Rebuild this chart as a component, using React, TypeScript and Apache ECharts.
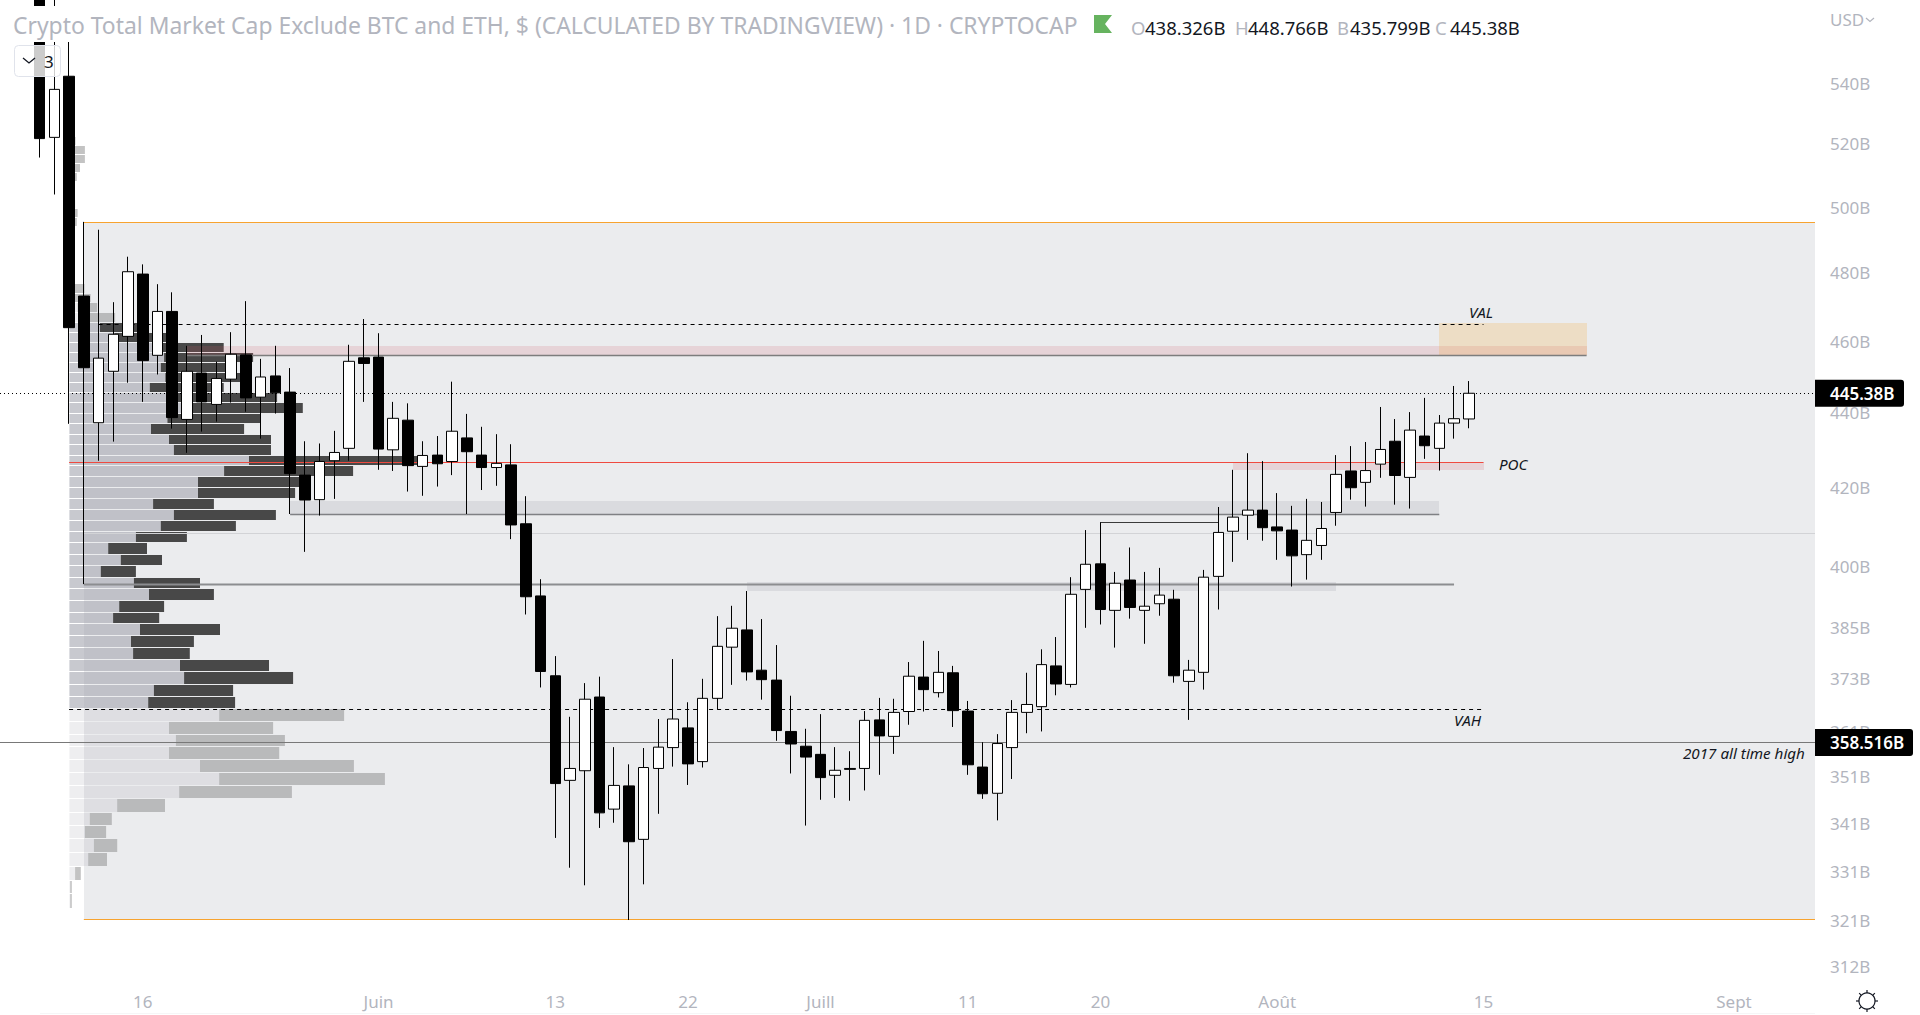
import React, { useEffect, useRef } from "react";
import * as echarts from "echarts";

// ---------- data ----------
const FONT = "'Noto Sans', sans-serif";
const firstDay = Date.UTC(2021, 4, 7);
const categories: string[] = Array.from({ length: 123 }, (_, i) => {
  const d = new Date(firstDay + i * 86400000);
  return String(d.getUTCMonth() + 1).padStart(2, "0") + "-" + String(d.getUTCDate()).padStart(2, "0");
});
const timeTicks: Record<string, string> = {
  "05-16": "16", "06-01": "Juin", "06-13": "13", "06-22": "22", "07-01": "Juill",
  "07-11": "11", "07-20": "20", "08-01": "Août", "08-15": "15", "09-01": "Sept",
};
const priceTicks = [540, 520, 500, 480, 460, 440, 420, 400, 385, 373, 361, 351, 341, 331, 321, 312];
const firstCandle = "05-09";

const opens = [577.5, 522.1, 542.3, 473.1, 437.3, 451.5, 461.4, 479.6, 456.0, 468.6, 438.2, 451.0, 442.3, 449.3, 456.1, 444.3, 450.2, 445.7, 423.3, 416.9, 427.1, 430.4, 455.3, 455.5, 430.0, 438.0, 425.6, 428.6, 426.9, 433.2, 428.6, 425.3, 426.0, 410.7, 392.7, 373.7, 350.2, 352.3, 368.8, 344.0, 349.0, 337.6, 352.8, 357.4, 361.8, 354.3, 368.5, 380.4, 384.5, 375.0, 372.7, 361.0, 357.7, 355.9, 351.3, 352.8, 352.8, 363.6, 359.9, 365.5, 373.4, 369.8, 374.4, 365.6, 353.1, 347.4, 357.4, 365.3, 366.6, 376.0, 371.7, 394.3, 400.6, 389.2, 396.6, 389.2, 390.8, 391.9, 372.4, 374.5, 397.5, 408.8, 412.9, 414.2, 409.9, 409.1, 402.9, 405.2, 413.6, 424.4, 421.4, 426.2, 432.3, 422.7, 433.7, 430.4, 437.2, 438.326];
const highs = [585.0, 575.0, 565.0, 495.4, 493.0, 471.3, 484.8, 482.5, 476.6, 474.2, 458.7, 461.8, 454.2, 462.6, 471.6, 455.0, 458.7, 452.4, 432.3, 431.7, 435.1, 459.0, 466.4, 462.3, 443.0, 442.6, 432.3, 433.7, 448.6, 439.7, 436.2, 434.2, 431.5, 417.8, 396.8, 378.3, 364.3, 372.0, 373.5, 357.5, 353.7, 357.3, 363.8, 377.6, 367.6, 373.0, 387.8, 390.3, 393.9, 387.1, 380.9, 369.1, 361.6, 364.9, 357.5, 356.6, 365.6, 368.6, 368.4, 376.9, 381.9, 379.5, 376.0, 367.9, 358.6, 360.4, 368.1, 374.4, 379.9, 382.8, 397.3, 409.1, 411.1, 398.6, 404.7, 398.6, 399.6, 394.2, 377.4, 399.1, 415.0, 424.7, 429.1, 427.0, 418.6, 415.3, 417.1, 416.3, 428.6, 431.0, 432.1, 441.6, 438.3, 440.2, 444.1, 439.4, 447.4, 448.766];
const lows = [515.6, 503.9, 437.0, 395.6, 427.1, 432.2, 448.3, 443.0, 450.6, 435.7, 429.2, 434.9, 437.6, 442.8, 440.3, 433.0, 439.8, 413.2, 403.6, 412.8, 417.1, 427.1, 443.0, 424.7, 424.4, 419.0, 417.9, 420.3, 423.3, 413.2, 419.4, 420.5, 406.8, 388.2, 371.0, 337.9, 331.7, 328.1, 340.0, 341.1, 321.1, 328.3, 343.0, 353.2, 349.2, 353.0, 366.0, 371.6, 372.6, 368.2, 358.9, 351.7, 340.5, 346.0, 346.4, 345.8, 348.0, 351.4, 356.0, 362.5, 365.5, 368.7, 362.0, 351.4, 346.2, 341.6, 350.5, 360.6, 361.0, 369.2, 371.0, 385.0, 385.8, 380.3, 387.2, 381.2, 387.9, 372.1, 363.6, 370.5, 389.4, 401.1, 406.6, 406.4, 401.6, 395.0, 396.7, 401.6, 410.2, 416.9, 415.1, 422.6, 415.6, 414.6, 427.6, 424.5, 433.0, 435.799];
const closes = [521.7, 537.9, 463.9, 452.5, 455.2, 462.0, 480.3, 454.5, 468.6, 438.7, 451.5, 443.0, 449.5, 456.3, 444.1, 449.9, 445.5, 423.7, 416.8, 426.9, 429.3, 454.3, 453.7, 430.2, 438.5, 425.8, 428.5, 426.3, 435.0, 429.5, 425.3, 426.4, 410.4, 392.5, 374.7, 349.5, 352.8, 368.3, 343.2, 349.1, 337.1, 353.0, 357.5, 363.8, 353.8, 368.5, 380.6, 384.9, 374.6, 372.8, 361.2, 358.2, 355.3, 350.8, 352.4, 352.6, 363.5, 360.0, 365.3, 373.6, 370.5, 374.5, 365.7, 353.6, 347.3, 358.3, 365.3, 367.1, 376.3, 371.8, 393.1, 400.5, 389.4, 395.8, 389.9, 390.2, 392.9, 373.7, 375.0, 397.3, 408.5, 412.4, 414.2, 409.7, 408.9, 402.6, 406.5, 409.5, 423.5, 420.0, 424.5, 430.1, 423.2, 435.3, 431.1, 437.2, 438.4, 445.38];

// volume profile: bin floor price, up volume, down volume (arbitrary units)
const binStep = 2.84;
const binFloor = [323.60, 326.44, 329.28, 332.12, 334.96, 337.80, 340.64, 343.48, 346.32, 349.16, 352.00, 354.84, 357.68, 360.52, 363.36, 366.20, 369.04, 371.88, 374.72, 377.56, 380.40, 383.24, 386.08, 388.92, 391.76, 394.60, 397.44, 400.28, 403.12, 405.96, 408.80, 411.64, 414.48, 417.32, 420.16, 423.00, 425.84, 428.68, 431.52, 434.36, 437.20, 440.04, 442.88, 445.72, 448.56, 451.40, 454.24, 457.08, 459.92, 462.76, 465.60, 468.44, 471.28, 474.12, 476.96, 479.80, 482.64, 485.48, 488.32, 491.16, 494.00, 496.84, 499.68, 502.52, 505.36, 508.20, 511.04, 513.88, 516.72, 519.56];
const upVolume = [0.8, 0.8, 5.7, 18.8, 24.5, 15.5, 20.4, 47.8, 109.8, 149.8, 130.6, 99.6, 106.5, 99.6, 149.8, 78.8, 84.5, 114.7, 110.6, 63.7, 61.6, 70.6, 43.7, 49.8, 79.6, 64.5, 31.4, 51.4, 38.8, 66.5, 91.4, 104.5, 83.7, 128.6, 128.6, 154.7, 179.6, 104.5, 99.6, 81.6, 98.0, 122.4, 106.1, 80.4, 95.9, 91.4, 94.7, 85.7, 44.9, 30.6, 19.6, 8.2, 5.3, 4.1, 2.4, 2.4, 2.4, 2.4, 2.4, 2.4, 3.3, 3.3, 3.3, 2.4, 2.4, 3.3, 3.3, 4.9, 4.9, 2.4];
const downVolume = [1.6, 1.6, 5.7, 18.8, 23.3, 21.2, 22.0, 47.8, 112.7, 165.7, 153.9, 110.2, 109.0, 104.1, 124.9, 86.9, 79.2, 109.0, 89.0, 56.7, 62.9, 80.0, 46.1, 44.9, 64.9, 66.1, 35.1, 41.2, 38.8, 51.0, 75.1, 102.0, 60.8, 97.1, 102.0, 129.0, 169.4, 97.1, 102.0, 93.1, 93.1, 111.0, 101.6, 73.9, 75.5, 73.9, 89.0, 68.6, 53.1, 40.8, 26.1, 19.6, 15.9, 11.0, 1.6, 1.6, 1.6, 1.6, 1.6, 1.6, 4.1, 4.9, 2.4, 2.4, 2.4, 4.1, 7.3, 10.6, 10.6, 3.7];
const valueAreaLow = 366;
const valueAreaHigh = 465;

const lastPrice = 445.38;
const athPrice = 358.516;
const pocPrice = 426.7;
const vahPrice = 366;
const valPrice = 464.9;
const rangeHigh = 495.2;
const rangeLow = 321.2;

// ---------- helpers ----------
const catIdx = (c: string) => categories.indexOf(c);
const crisp = (v: number) => Math.floor(v) + 0.5;

type Zone = { from: string; to: string | null; top: number; bottom: number; fill: string; z: number };
type Line = { from: string | null; to: string | null; price: number; stroke: string; width: number; dash?: number[] };

const zones: Zone[] = [
  { from: "05-12", to: null, top: rangeHigh, bottom: rangeLow, fill: "#ebecee", z: 1 },
  { from: "05-19", to: "08-22", top: 458.7, bottom: 456, fill: "rgba(205,90,100,0.17)", z: 3 },
  { from: "08-12", to: "08-22", top: 465.3, bottom: 456, fill: "rgba(245,166,35,0.2)", z: 3 },
  { from: "07-29", to: "08-15", top: 426.7, bottom: 424.6, fill: "rgba(205,90,100,0.17)", z: 3 },
  { from: "05-26", to: "08-12", top: 416.5, bottom: 413.2, fill: "rgba(120,123,134,0.14)", z: 3 },
  { from: "06-26", to: "08-05", top: 396, bottom: 393.9, fill: "rgba(120,123,134,0.14)", z: 3 },
];
const lines: Line[] = [
  { from: "05-12", to: null, price: rangeHigh, stroke: "#f7a32f", width: 1 },
  { from: "05-12", to: null, price: rangeLow, stroke: "#f7a32f", width: 1 },
  { from: "05-13", to: "08-15", price: valPrice, stroke: "#000", width: 1, dash: [4, 4] },
  { from: "05-11", to: "08-15", price: vahPrice, stroke: "#000", width: 1, dash: [4, 4] },
  { from: "05-11", to: "08-15", price: pocPrice, stroke: "#ef4a40", width: 1.2 },
  { from: "05-19", to: "08-22", price: 456, stroke: "#7d7d7d", width: 1.5 },
  { from: "05-26", to: "08-12", price: 413.2, stroke: "#7f8084", width: 1.5 },
  { from: "05-12", to: "08-13", price: 395.6, stroke: "#8c8d90", width: 1.8 },
  { from: "05-12", to: null, price: 408.3, stroke: "#d2d3d6", width: 1 },
  { from: "07-20", to: "07-28", price: 411.1, stroke: "#3a3a3a", width: 1 },
  { from: null, to: null, price: athPrice, stroke: "#787878", width: 1 },
  { from: null, to: null, price: lastPrice, stroke: "#000", width: 1, dash: [1, 3] },
];
const tags = [
  { price: lastPrice, text: "445.38B", w: 89 },
  { price: athPrice, text: "358.516B", w: 98 },
];

const gridLeft = 2.8;
const gridW = 1812.2;
const volumeZeroX = 69.4;

function customBase(name: string, z: number, renderItem: any, count: number, xIdx = 0) {
  return {
    type: "custom", name, z, silent: true, xAxisIndex: xIdx, yAxisIndex: 0,
    data: Array.from({ length: count }, (_, i) => [i]), renderItem,
  };
}

function buildOption() {
  const pad = catIdx(firstCandle);
  const candleData: any[] = categories.map((_, i) => {
    const k = i - pad;
    if (k < 0 || k >= opens.length) return ["-", "-", "-", "-"];
    return [opens[k], closes[k], lows[k], highs[k]];
  });

  const xOf = (api: any, c: string | null, s: any, side: number) =>
    c == null ? (side === 0 ? s.x : s.x + s.width) : api.coord([catIdx(c), rangeLow])[0];

  const zoneSeries = (z: number) => {
    const rows = zones.filter((r) => r.z === z);
    return customBase("zones" + z, z, (p: any, api: any) => {
      const r = rows[p.dataIndex];
      const s = p.coordSys;
      const x0 = Math.round(xOf(api, r.from, s, 0));
      const x1 = Math.round(xOf(api, r.to, s, 1));
      const y0 = Math.round(api.coord([0, r.top])[1]);
      const y1 = Math.round(api.coord([0, r.bottom])[1]);
      return { type: "rect", shape: { x: x0, y: y0, width: x1 - x0, height: y1 - y0 }, style: { fill: r.fill } };
    }, rows.length);
  };

  const profile = customBase("volume profile", 2, (p: any, api: any) => {
    const i = p.dataIndex;
    const floor = binFloor[i];
    const inVA = floor >= valueAreaLow && floor < valueAreaHigh;
    const [x0, y1] = api.coord([0, floor]);
    const y0 = api.coord([0, floor + binStep])[1];
    const xu = api.coord([upVolume[i], floor])[0];
    const xd = api.coord([upVolume[i] + downVolume[i], floor])[0];
    const top = Math.round(y0) + 1;
    const h = Math.max(1, Math.round(y1) - top);
    return {
      type: "group",
      children: [
        { type: "rect", shape: { x: x0, y: top, width: xu - x0, height: h }, style: { fill: inVA ? "rgba(163,165,175,0.6)" : "rgba(170,172,180,0.2)" } },
        { type: "rect", shape: { x: xu, y: top, width: xd - xu, height: h }, style: { fill: inVA ? "#484848" : "rgba(135,135,135,0.5)" } },
      ],
    };
  }, binFloor.length, 1);

  const lineSeries = customBase("levels", 4, (p: any, api: any) => {
    const r = lines[p.dataIndex];
    const s = p.coordSys;
    const y = crisp(api.coord([0, r.price])[1]);
    return {
      type: "line",
      shape: { x1: r.from == null ? 0 : xOf(api, r.from, s, 0), y1: y, x2: xOf(api, r.to, s, 1), y2: y },
      style: { stroke: r.stroke, lineWidth: r.width, lineDash: r.dash },
    };
  }, lines.length);

  const tagSeries = customBase("price tags", 20, (p: any, api: any) => {
    const t = tags[p.dataIndex];
    const s = p.coordSys;
    const y = api.coord([0, t.price])[1];
    const x = s.x + s.width;
    return {
      type: "group",
      children: [
        { type: "rect", shape: { x, y: y - 13.5, width: t.w, height: 27, r: [0, 3, 3, 0] }, style: { fill: "#000" } },
        { type: "text", style: { x: x + 15, y, text: t.text, fill: "#fff", font: `600 17px ${FONT}`, verticalAlign: "middle" } },
      ],
    };
  }, tags.length);

  const txt = (text: string, x: number, y: number, fill: string, font: string) => ({
    type: "text", z: 30, style: { text, x, y, fill, font, textVerticalAlign: "middle", verticalAlign: "middle" }, silent: true,
  });
  const ital = `italic 15.2px ${FONT}`;
  const titleFont = `22.9px ${FONT}`;
  const ohlcFont = `18.5px ${FONT}`;

  const rayLines: any[] = [];
  const rays: [number, number][] = [[0, 1], [0.71, 0.71], [1, 0], [0.71, -0.71], [0, -1], [-0.71, -0.71], [-1, 0], [-0.71, 0.71]];
  rays.forEach(([dx, dy]) => rayLines.push({
    type: "line", z: 30, silent: true,
    shape: { x1: 1867 + dx * 8, y1: 1001 + dy * 8, x2: 1867 + dx * 11, y2: 1001 + dy * 11 },
    style: { stroke: "#131722", lineWidth: 1.2 },
  }));

  return {
    animation: false,
    backgroundColor: "#fff",
    textStyle: { fontFamily: FONT },
    grid: { left: gridLeft, top: 0, width: gridW, height: 985, containLabel: false },
    xAxis: [
      {
        type: "category", data: categories, boundaryGap: true,
        axisLine: { show: false }, axisTick: { show: false }, splitLine: { show: false },
        axisLabel: {
          margin: 8, fontSize: 17, color: "#b2b5be", fontFamily: FONT, hideOverlap: false,
          interval: (_i: number, v: string) => v in timeTicks,
          formatter: (v: string) => timeTicks[v] ?? "",
        },
      },
      { type: "value", show: false, min: gridLeft - volumeZeroX, max: gridLeft - volumeZeroX + gridW, splitLine: { show: false } },
    ],
    yAxis: [
      {
        type: "log", position: "right", min: 308.4, max: 568.6,
        axisLine: { show: false }, axisTick: { show: false }, splitLine: { show: false },
        axisLabel: {
          customValues: priceTicks, margin: 15, fontSize: 17, color: "#b2b5be", fontFamily: FONT, align: "left",
          padding: [0, 0, 2, 0],
          formatter: (v: number) => `${Math.round(v)}B`,
        },
      },
    ],
    series: [
      zoneSeries(1),
      profile,
      zoneSeries(3),
      lineSeries,
      {
        type: "candlestick", name: "CRYPTOCAP", z: 6, silent: true, xAxisIndex: 0, yAxisIndex: 0,
        barWidth: 11, data: candleData,
        itemStyle: { color: "#fff", color0: "#000", borderColor: "#000", borderColor0: "#000", borderWidth: 1 },
      },
      tagSeries,
    ],
    graphic: {
      elements: [
        { type: "rect", z: 25, silent: true, shape: { x: 8, y: 6, width: 1530, height: 36 }, style: { fill: "#fff" } },
        txt("Crypto Total Market Cap Exclude BTC and ETH, $ (CALCULATED BY TRADINGVIEW) · 1D · CRYPTOCAP", 13, 25, "#b2b5be", titleFont),
        { type: "polygon", z: 30, silent: true, shape: { points: [[1094, 15], [1112, 15], [1105, 24], [1112, 33], [1094, 33]] }, style: { fill: "#66b35f" } },
        txt("O", 1131, 27, "#b2b5be", ohlcFont), txt("438.326B", 1145, 27, "#131722", ohlcFont),
        txt("H", 1235, 27, "#b2b5be", ohlcFont), txt("448.766B", 1248, 27, "#131722", ohlcFont),
        txt("B", 1337, 27, "#b2b5be", ohlcFont), txt("435.799B", 1350, 27, "#131722", ohlcFont),
        txt("C", 1435, 27, "#b2b5be", ohlcFont), txt("445.38B", 1450, 27, "#131722", ohlcFont),
        txt("USD", 1830, 19.5, "#b2b5be", `17px ${FONT}`),
        { type: "polyline", z: 30, silent: true, shape: { points: [[1866, 18], [1870, 21.5], [1874, 18]] }, style: { fill: "none", stroke: "#b2b5be", lineWidth: 1.2 } },
        txt("VAL", 1469, 311.5, "#131722", ital),
        txt("POC", 1499, 463.5, "#131722", ital),
        txt("VAH", 1454, 719.5, "#131722", ital),
        txt("2017 all time high", 1683, 753, "#131722", ital),
        { type: "rect", z: 30, silent: true, shape: { x: 14.5, y: 45.5, width: 46, height: 31, r: 4 }, style: { fill: "rgba(255,255,255,0.8)", stroke: "#e0e3eb", lineWidth: 1 } },
        { type: "polyline", z: 31, silent: true, shape: { points: [[23, 58], [29, 63], [35, 58]] }, style: { fill: "none", stroke: "#131722", lineWidth: 1.3 } },
        txt("3", 44, 61, "#131722", `17px ${FONT}`),
        { type: "circle", z: 30, silent: true, shape: { cx: 1867, cy: 1001, r: 8 }, style: { fill: "none", stroke: "#131722", lineWidth: 1.2 } },
        ...rayLines,
        { type: "line", z: 1, silent: true, shape: { x1: 40, y1: 1013.5, x2: 1815, y2: 1013.5 }, style: { stroke: "#f6f6f7", lineWidth: 1 } },
      ],
    },
  };
}

export default function App() {
  const ref = useRef<HTMLDivElement>(null);
  useEffect(() => {
    document.body.style.margin = "0";
    const chart = echarts.init(ref.current!, undefined, { renderer: "svg" });
    chart.setOption(buildOption() as any);
    return () => chart.dispose();
  }, []);
  return <div ref={ref} style={{ position: "absolute", left: 0, top: 0, width: 1920, height: 1015 }} />;
}
